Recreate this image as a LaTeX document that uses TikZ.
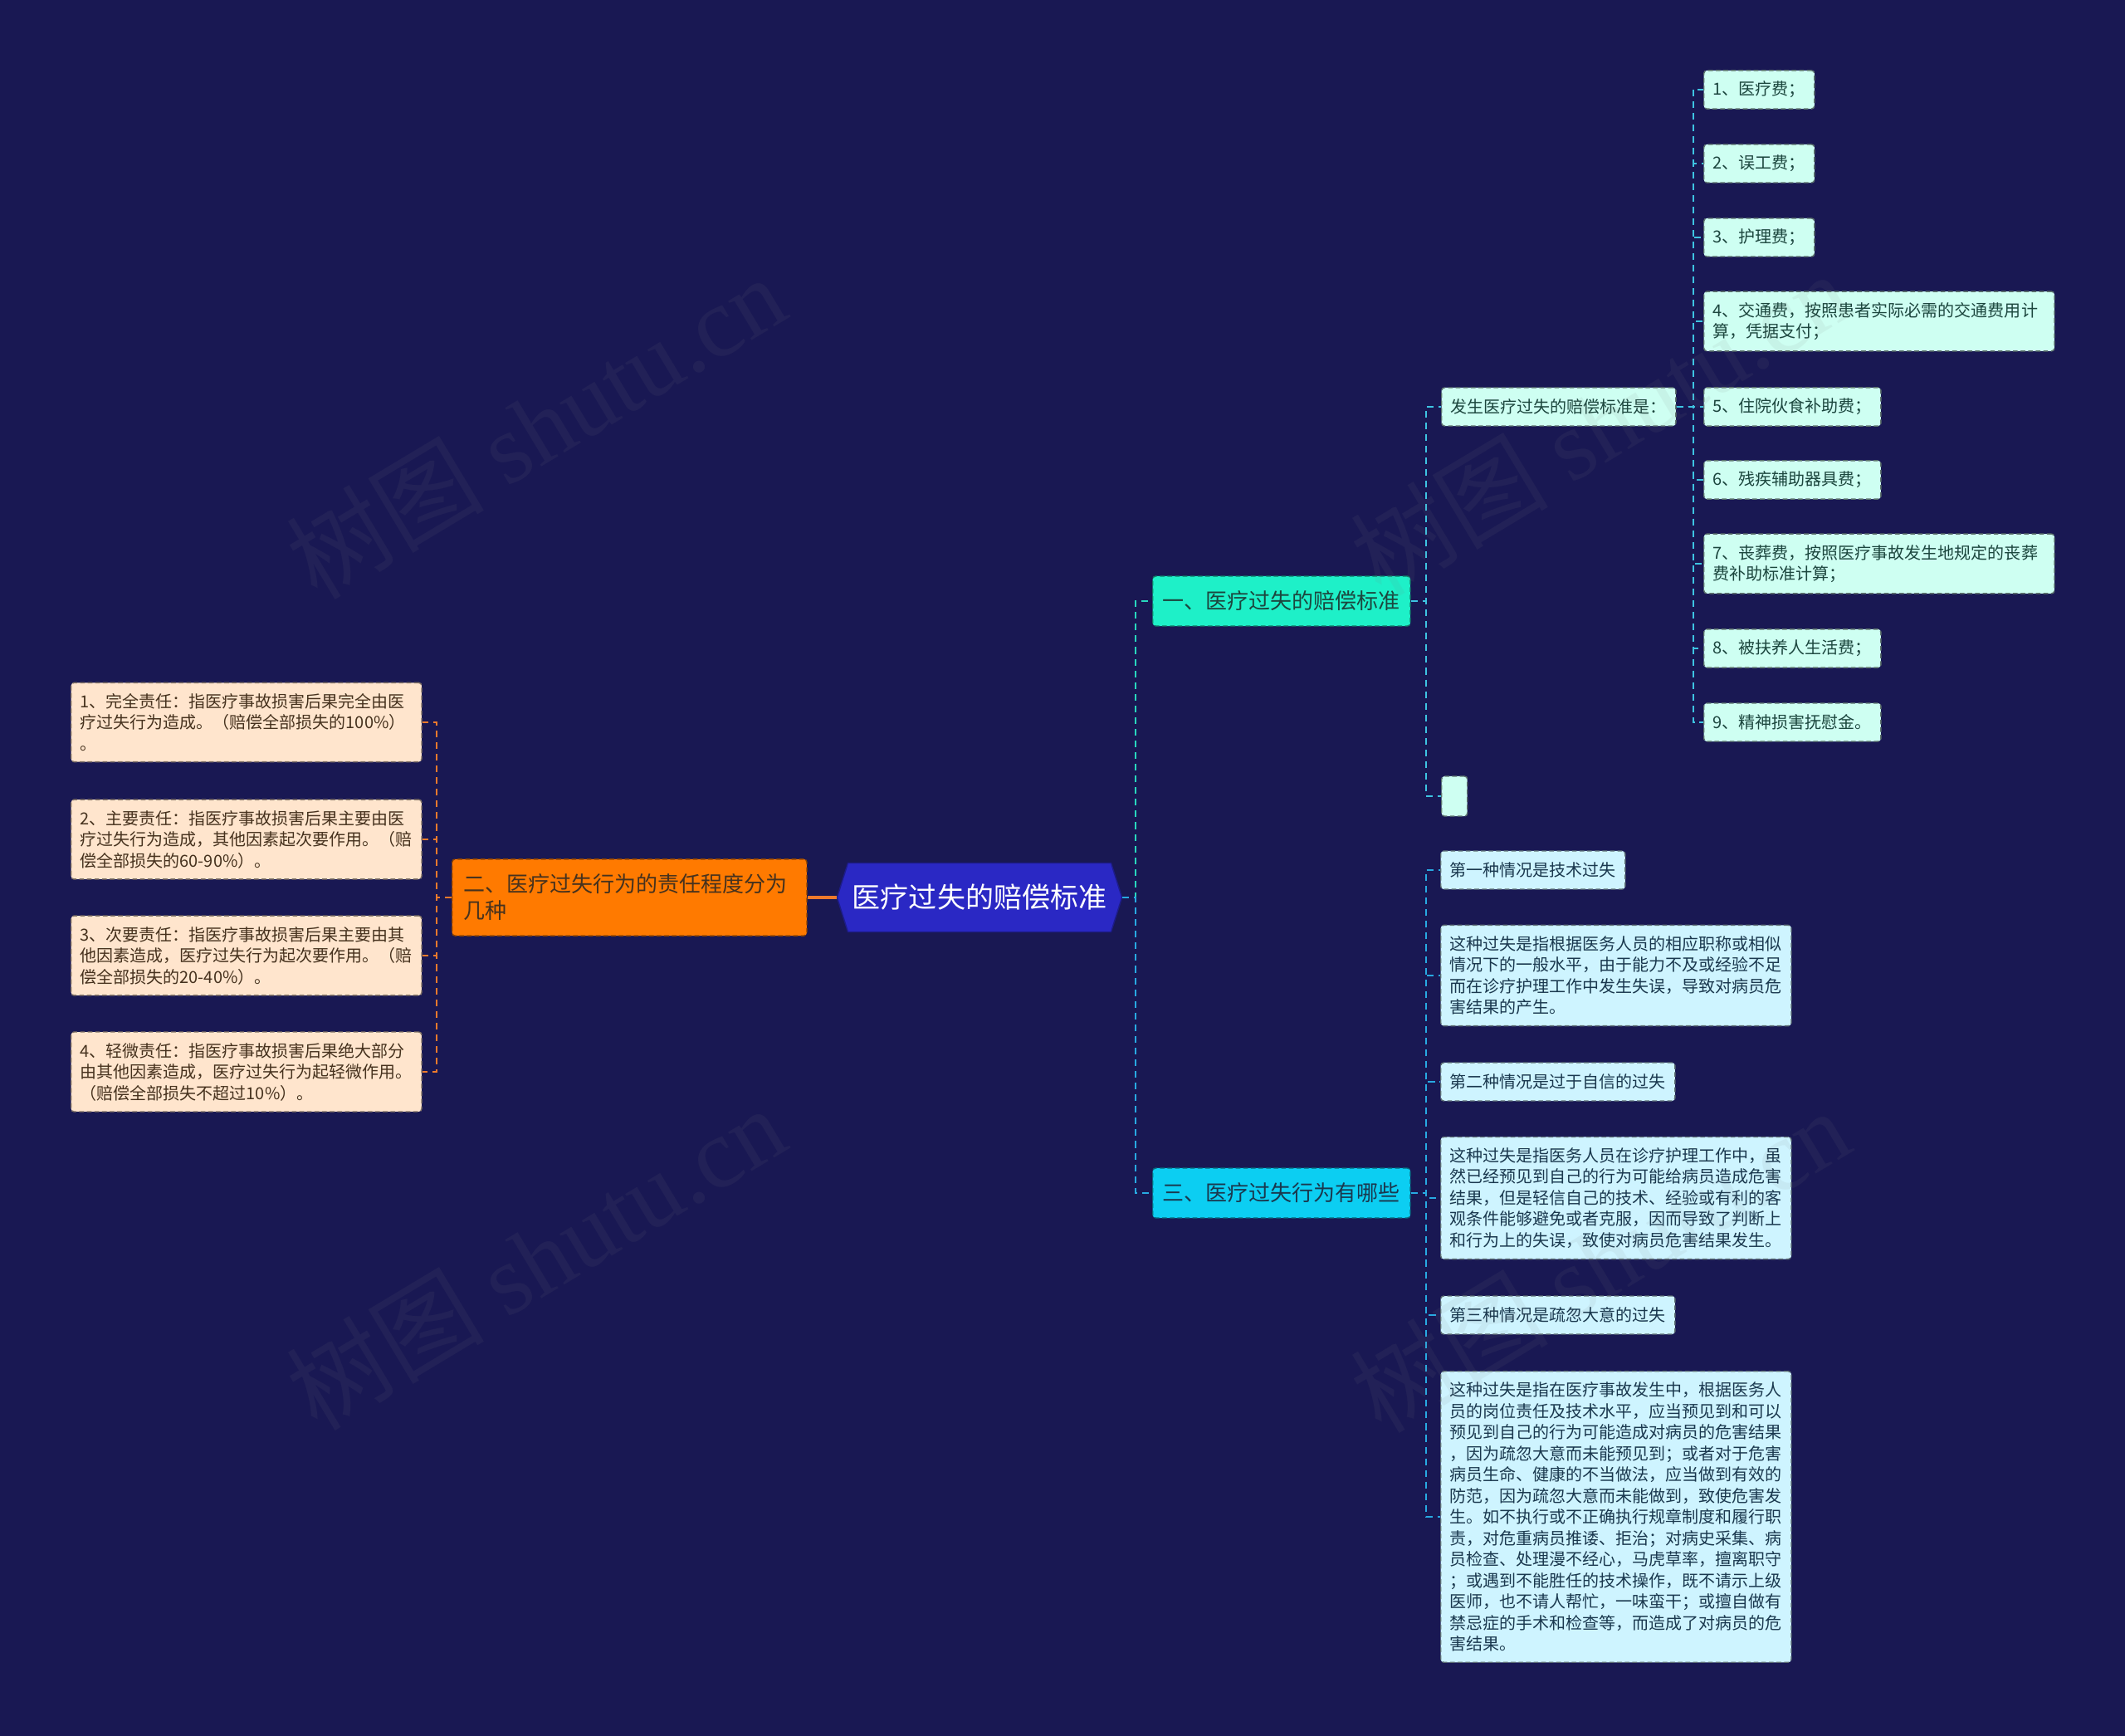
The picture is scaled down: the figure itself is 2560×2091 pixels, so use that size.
\documentclass[tikz,border=0pt]{standalone}
\usepackage{fontspec}
\setmainfont{Noto Sans CJK SC}
\newfontfamily\wmfont{Liberation Serif}
\usetikzlibrary{shapes.symbols}

\definecolor{bgnavy}{RGB}{25,24,83}
\definecolor{rootblue}{RGB}{42,40,196}
\definecolor{aqua}{RGB}{30,240,200}
\definecolor{skyc}{RGB}{12,206,242}
\definecolor{orangef}{RGB}{255,122,0}
\definecolor{peach}{RGB}{255,229,205}
\definecolor{mint}{RGB}{206,255,242}
\definecolor{icec}{RGB}{206,244,255}
\definecolor{aqualine}{RGB}{40,216,190}
\definecolor{skyline}{RGB}{62,196,226}
\definecolor{blueline}{RGB}{40,170,226}
\definecolor{orangeline}{RGB}{238,122,44}
\definecolor{textbrown}{RGB}{70,50,30}
\definecolor{textgreen}{RGB}{28,70,62}
\definecolor{textblue}{RGB}{26,56,78}

\newcommand{\leaffont}{\fontsize{5.69pt}{7.25pt}\selectfont}
\newcommand{\midfont}{\fontsize{7.4pt}{9.1pt}\selectfont}
\newcommand{\rootfont}{\fontsize{9.67pt}{11pt}\selectfont}

\begin{document}
\begin{tikzpicture}[x=0.01cm,y=-0.01cm,
  box/.style={rectangle,rounded corners=1pt,dash pattern=on 1.6pt off 1pt,line width=0.4pt,
    anchor=west,align=left,inner xsep=0.11cm,inner ysep=0.13cm,minimum height=0.46cm,font=\leaffont},
  wide/.style={text width=4cm},
  peachbox/.style={box,fill=peach,draw=peach!50!black,text=textbrown},
  mintbox/.style={box,fill=mint,draw=mint!45!black,text=textgreen},
  icebox/.style={box,fill=icec,draw=icec!45!black,text=textblue},
  topic/.style={box,font=\midfont,inner xsep=0.12cm,inner ysep=0.05cm,minimum height=0.6cm},
  rootbox/.style={signal,signal to=west and east,signal pointer angle=145,fill=rootblue,
    draw=rootblue!70!black,text=white,font=\rootfont,minimum width=3.43cm,minimum height=0.83cm,inner xsep=0.05cm},
  link/.style={dash pattern=on 2.3pt off 1.7pt,line width=0.55pt},
  wmark/.style={rotate=31,text=gray,opacity=0.09,font=\fontsize{34pt}{34pt}\selectfont}]

\fill[bgnavy] (0,0) rectangle (2560,2091);

% centre
\node[rootbox] (root) at (1180,1081) {医疗过失的赔偿标准};

% left branch
\node[topic,fill=orangef,draw=orangef!55!black,text=textbrown,text width=4cm,inner xsep=0.135cm,inner ysep=0.18cm,
  font=\fontsize{7.4pt}{9.1pt}\selectfont] (degree) at (544,1081) {二、医疗过失行为的责任程度分为\\几种};
\node[peachbox,wide] (duty1) at (85,870) {1、完全责任：指医疗事故损害后果完全由医\\疗过失行为造成。（赔偿全部损失的100\%）\\。};
\node[peachbox,wide] (duty2) at (85,1011) {2、主要责任：指医疗事故损害后果主要由医\\疗过失行为造成，其他因素起次要作用。（赔\\偿全部损失的60-90\%）。};
\node[peachbox,wide] (duty3) at (85,1151) {3、次要责任：指医疗事故损害后果主要由其\\他因素造成，医疗过失行为起次要作用。（赔\\偿全部损失的20-40\%）。};
\node[peachbox,wide] (duty4) at (85,1291) {4、轻微责任：指医疗事故损害后果绝大部分\\由其他因素造成，医疗过失行为起轻微作用。\\（赔偿全部损失不超过10\%）。};

% right branch, part one
\node[topic,fill=aqua,draw=aqua!50!black,text=textgreen] (part1) at (1388,724) {一、医疗过失的赔偿标准};
\node[mintbox] (rule) at (1736,490) {发生医疗过失的赔偿标准是：};
\node[mintbox,minimum width=0.31cm,minimum height=0.48cm] (blank) at (1736,959) {};
\node[mintbox] (fee1) at (2052,108) {1、医疗费；};
\node[mintbox] (fee2) at (2052,197) {2、误工费；};
\node[mintbox] (fee3) at (2052,286) {3、护理费；};
\node[mintbox,wide] (fee4) at (2052,387) {4、交通费，按照患者实际必需的交通费用计\\算，凭据支付；};
\node[mintbox] (fee5) at (2052,490) {5、住院伙食补助费；};
\node[mintbox] (fee6) at (2052,578) {6、残疾辅助器具费；};
\node[mintbox,wide] (fee7) at (2052,679) {7、丧葬费，按照医疗事故发生地规定的丧葬\\费补助标准计算；};
\node[mintbox] (fee8) at (2052,781) {8、被扶养人生活费；};
\node[mintbox] (fee9) at (2052,870) {9、精神损害抚慰金。};

% right branch, part three
\node[topic,fill=skyc,draw=skyc!50!black,text=textblue] (part3) at (1388,1437) {三、医疗过失行为有哪些};
\node[icebox] (case1) at (1735,1048) {第一种情况是技术过失};
\node[icebox,wide] (case2) at (1735,1175) {这种过失是指根据医务人员的相应职称或相似\\情况下的一般水平，由于能力不及或经验不足\\而在诊疗护理工作中发生失误，导致对病员危\\害结果的产生。};
\node[icebox] (case3) at (1735,1303) {第二种情况是过于自信的过失};
\node[icebox,wide] (case4) at (1735,1443) {这种过失是指医务人员在诊疗护理工作中，虽\\然已经预见到自己的行为可能给病员造成危害\\结果，但是轻信自己的技术、经验或有利的客\\观条件能够避免或者克服，因而导致了判断上\\和行为上的失误，致使对病员危害结果发生。};
\node[icebox] (case5) at (1735,1584) {第三种情况是疏忽大意的过失};
\node[icebox,wide] (case6) at (1735,1827) {这种过失是指在医疗事故发生中，根据医务人\\员的岗位责任及技术水平，应当预见到和可以\\预见到自己的行为可能造成对病员的危害结果\\，因为疏忽大意而未能预见到；或者对于危害\\病员生命、健康的不当做法，应当做到有效的\\防范，因为疏忽大意而未能做到，致使危害发\\生。如不执行或不正确执行规章制度和履行职\\责，对危重病员推诿、拒治；对病史采集、病\\员检查、处理漫不经心，马虎草率，擅离职守\\；或遇到不能胜任的技术操作，既不请示上级\\医师，也不请人帮忙，一味蛮干；或擅自做有\\禁忌症的手术和检查等，而造成了对病员的危\\害结果。};

% connectors
\draw[orangeline,line width=1.2pt] (root.west) -- (degree.east);
\foreach \i in {1,...,4}
  \draw[link,orangeline] (degree.west) -- ++(-18,0) |- (duty\i.east);
\draw[link,aqualine] (root.east) -- ++(16,0) |- (part1.west);
\draw[link,blueline] (root.east) -- ++(16,0) |- (part3.west);
\draw[link,skyline] (part1.east) -- ++(18,0) |- (rule.west);
\draw[link,skyline] (part1.east) -- ++(18,0) |- (blank.west);
\foreach \i in {1,...,9}
  \draw[link,skyline] (rule.east) -- ++(20,0) |- (fee\i.west);
\foreach \i in {1,...,6}
  \draw[link,blueline] (part3.east) -- ++(18,0) |- (case\i.west);

% watermarks
\node[wmark] (wm1) at (645,514) {树图 {\wmfont shutu.cn}};
\node[wmark] (wm2) at (645,1515) {树图 {\wmfont shutu.cn}};
\node[wmark] (wm3) at (1927,510) {树图 {\wmfont shutu.cn}};
\node[wmark] (wm4) at (1927,1518) {树图 {\wmfont shutu.cn}};
\end{tikzpicture}
\end{document}
